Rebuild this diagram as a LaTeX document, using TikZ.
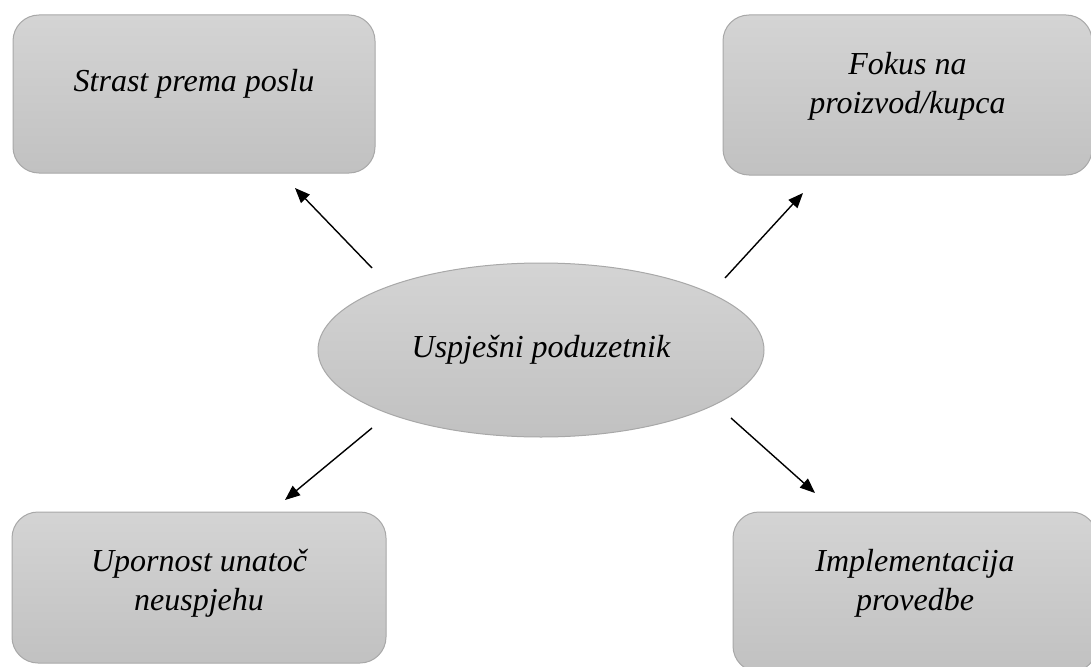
\documentclass[tikz,border=0pt]{standalone}
\usepackage{fontspec}
\setmainfont{Liberation Serif}
\usetikzlibrary{arrows.meta,shapes.geometric}
\definecolor{boxtop}{HTML}{D4D4D4}
\definecolor{boxbot}{HTML}{C1C1C1}
\definecolor{boxline}{HTML}{A8A8A8}
\tikzset{
  card/.style={draw=boxline, line width=1pt, rounded corners=26pt,
    top color=boxtop, bottom color=boxbot, inner sep=0pt},
  label/.style={font=\fontsize{32}{39}\selectfont\itshape, align=center, inner sep=0pt},
  hub/.style={ellipse, draw=boxline, line width=1pt,
    top color=boxtop, bottom color=boxbot, inner sep=0pt,
    minimum width=446pt, minimum height=174pt,
    font=\fontsize{32}{39}\selectfont\itshape},
  link/.style={line width=1.4pt, -{Triangle[length=15pt,width=12pt]}}
}
\begin{document}
\begin{tikzpicture}[x=1pt,y=1pt]
\useasboundingbox (0,0) rectangle (1091,-666);
\clip (0,0) rectangle (1091,-666);
\fill[white] (0,0) rectangle (1091,-666);
\node[card, minimum width=362pt, minimum height=158pt] (tl) at (194,-94) {};
\node[label] (tlt) at (194,-84) {Strast prema poslu};
\node[card, minimum width=369pt, minimum height=160pt] (tr) at (907.5,-95) {};
\node[label] (trt) at (907.5,-86) {Fokus na\\proizvod/kupca};
\node[card, minimum width=374pt, minimum height=151pt] (bl) at (199,-587.5) {};
\node[label] (blt) at (199,-583) {Upornost unatoč\\neuspjehu};
\node[card, minimum width=364pt, minimum height=160pt] (br) at (915,-592) {};
\node[label] (brt) at (915,-583) {Implementacija\\provedbe};
\node[hub] (c) at (541,-350) {Uspješni poduzetnik};
\coordinate (s1) at (372,-268); \coordinate (e1) at (295,-188);
\coordinate (s2) at (725,-278); \coordinate (e2) at (803,-193);
\coordinate (s3) at (372,-428); \coordinate (e3) at (285,-500);
\coordinate (s4) at (731,-418); \coordinate (e4) at (815,-493);
\draw[link] (s1) -- (e1);
\draw[link] (s2) -- (e2);
\draw[link] (s3) -- (e3);
\draw[link] (s4) -- (e4);
\end{tikzpicture}
\end{document}
